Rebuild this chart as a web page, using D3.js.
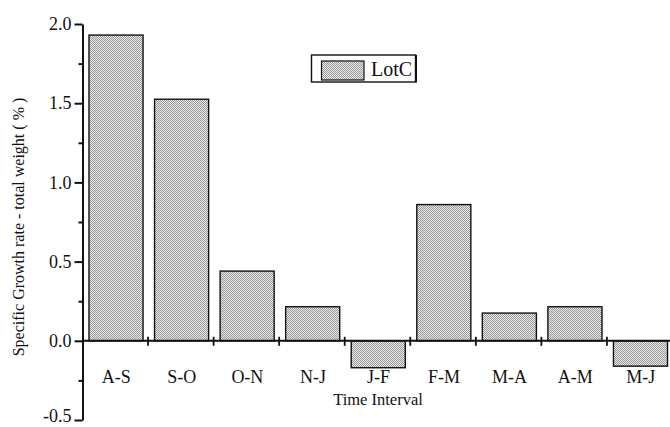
<!DOCTYPE html>
<html>
<head>
<meta charset="utf-8">
<script src="https://cdn.jsdelivr.net/npm/d3@7/dist/d3.min.js"></script>
<style>
  html, body { margin: 0; padding: 0; background: #fff; }
  svg { display: block; }
  text { font-family: "Liberation Serif", "Times New Roman", serif; fill: #111; }
</style>
</head>
<body>
<svg id="chart" width="670" height="427"></svg>
<script>
const categories = ["A-S", "S-O", "O-N", "N-J", "J-F", "F-M", "M-A", "A-M", "M-J"];
const lotC = [1.93, 1.525, 0.44, 0.215, -0.17, 0.86, 0.175, 0.215, -0.16];
const majorTicks = [-0.5, 0.0, 0.5, 1.0, 1.5, 2.0];
const minorTicks = [-0.25, 0.25, 0.75, 1.25, 1.75];
const seriesName = "LotC";
const xTitle = "Time Interval";
const yTitle = "Specific Growth rate - total weight ( % )";

const svg = d3.select("#chart");
const ink = "#111";

// halftone-like pattern
const defs = svg.append("defs");
const pat = defs.append("pattern").attr("id", "dots")
  .attr("width", 2).attr("height", 2).attr("patternUnits", "userSpaceOnUse");
pat.append("rect").attr("width", 2).attr("height", 2).attr("fill", "#ececec");
pat.append("rect").attr("x", 0).attr("y", 0).attr("width", 1).attr("height", 1).attr("fill", "#969696");
pat.append("rect").attr("x", 1).attr("y", 1).attr("width", 1).attr("height", 1).attr("fill", "#969696");

const y = d3.scaleLinear().domain([-0.5, 2.0]).range([420, 24]);
const x = d3.scaleBand().domain(categories).range([82.5, 672.5]).padding(0);
const x0 = 82.5;
const y0 = y(0);

// bars
svg.append("g").selectAll("rect").data(categories).join("rect")
  .attr("x", d => x(d) + 6.5)
  .attr("width", x.bandwidth() - 11.5)
  .attr("y", (d, i) => y(Math.max(0, lotC[i])))
  .attr("height", (d, i) => Math.abs(y(lotC[i]) - y0))
  .attr("fill", "url(#dots)")
  .attr("stroke", ink).attr("stroke-width", 1.4);

// y axis major
const fmt = v => d3.format(".1f")(v).replace("\u2212", "-");
const yAxis = svg.append("g").attr("transform", `translate(${x0},0)`)
  .call(d3.axisLeft(y).tickValues(majorTicks).tickSize(8).tickSizeOuter(0).tickPadding(3).tickFormat(fmt));
yAxis.select(".domain").attr("stroke", ink).attr("stroke-width", 2);
yAxis.selectAll(".tick line").attr("stroke", ink).attr("stroke-width", 2);
yAxis.selectAll(".tick text").attr("font-size", 18).attr("font-family", "Liberation Serif").attr("fill", ink)
  .attr("dy", d => d < 0 ? "0.1em" : "0.32em");

// y axis minor
const yMinor = svg.append("g").attr("transform", `translate(${x0},0)`)
  .call(d3.axisLeft(y).tickValues(minorTicks).tickSize(4).tickSizeOuter(0).tickFormat(""));
yMinor.select(".domain").remove();
yMinor.selectAll(".tick line").attr("stroke", ink).attr("stroke-width", 2);

// x axis at zero
svg.append("line").attr("x1", x0).attr("x2", 680).attr("y1", y0).attr("y2", y0)
  .attr("stroke", ink).attr("stroke-width", 2);
svg.append("g").selectAll("line").data(categories.slice(1)).join("line")
  .attr("x1", d => x(d)).attr("x2", d => x(d))
  .attr("y1", y0 - 4).attr("y2", y0 + 5)
  .attr("stroke", ink).attr("stroke-width", 1.8);

// category labels
svg.append("g").selectAll("text").data(categories).join("text")
  .attr("x", d => x(d) + x.bandwidth() / 2 + 1)
  .attr("y", y0 + 42)
  .attr("text-anchor", "middle")
  .attr("font-size", 18)
  .text(d => d);

// axis titles
svg.append("text").attr("x", 378).attr("y", 405)
  .attr("text-anchor", "middle").attr("font-size", 16.5).text(xTitle);
svg.append("text").attr("transform", "translate(24,227) rotate(-90)")
  .attr("text-anchor", "middle").attr("font-size", 16).text(yTitle);

// legend
const lg = svg.append("g");
lg.append("rect").attr("x", 311.5).attr("y", 55).attr("width", 104).attr("height", 27)
  .attr("fill", "#fff").attr("stroke", ink).attr("stroke-width", 1.4);
lg.append("line").attr("x1", 416.5).attr("x2", 416.5).attr("y1", 55).attr("y2", 82.5)
  .attr("stroke", ink).attr("stroke-width", 1);
lg.append("rect").attr("x", 321.5).attr("y", 61).attr("width", 42.5).attr("height", 19)
  .attr("fill", "url(#dots)").attr("stroke", ink).attr("stroke-width", 1.2);
lg.append("text").attr("x", 371).attr("y", 75.5).attr("font-size", 20).text(seriesName);
</script>
</body>
</html>
